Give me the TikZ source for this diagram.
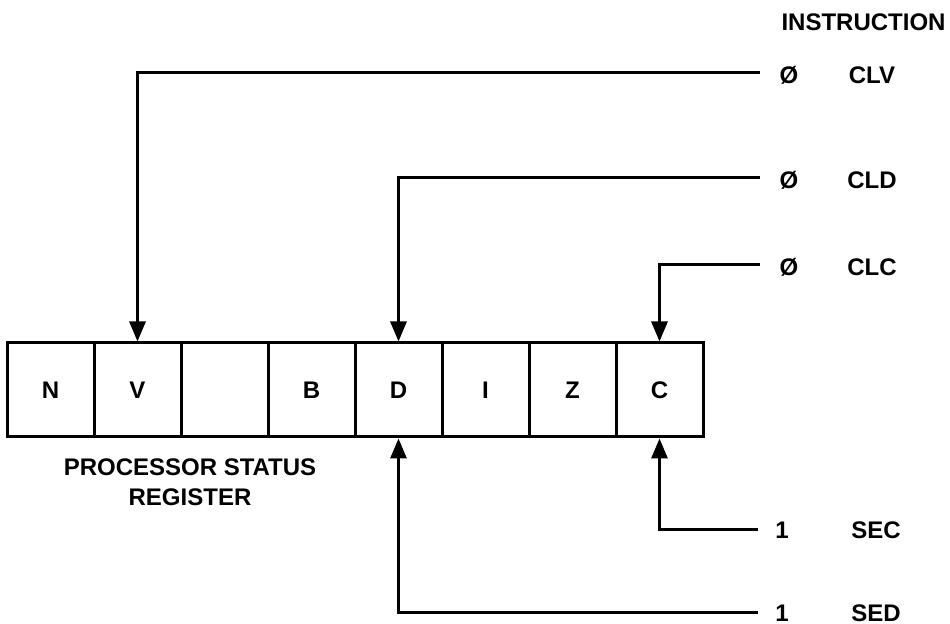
\documentclass[tikz,border=0pt]{standalone}
\usepackage{fontspec}
\setmainfont{Liberation Sans}
\usetikzlibrary{arrows.meta,positioning,calc}

\begin{document}
\begin{tikzpicture}[x=0.5pt,y=-0.5pt,line width=1.5pt,
	cell/.style={draw, minimum width=43.5pt, minimum height=47pt, inner sep=0pt, font=\bfseries\fontsize{12}{14}\selectfont},
	lbl/.style={inner sep=0pt, font=\bfseries\fontsize{12}{14}\selectfont},
	flag/.style={-{Triangle[length=10pt,width=8pt]}}]
	\useasboundingbox (0,0) rectangle (950,624);
	% status register
	\foreach \f [count=\i] in {N,V,{},B,D,I,Z,C} {
		\node[cell] (c\i) at ({7+87*\i-43.5},390) {\f};
	}
	\node[lbl, align=center] (psr) at (190,482) {PROCESSOR STATUS\\[1pt]REGISTER};
	% instructions
	\node[lbl, anchor=east] (instr) at (947,22) {INSTRUCTION};
	\node[lbl] (vclv) at (789,75) {Ø};
	\node[lbl] (clv) at (872,75) {CLV};
	\node[lbl] (vcld) at (789,180) {Ø};
	\node[lbl] (cld) at (872,180) {CLD};
	\node[lbl] (vclc) at (789,267) {Ø};
	\node[lbl] (clc) at (872,267) {CLC};
	\node[lbl] (vsec) at (782,530) {1};
	\node[lbl] (sec) at (876,530) {SEC};
	\node[lbl] (vsed) at (782,613) {1};
	\node[lbl] (sed) at (876,613) {SED};
	% connectors
	\draw[flag] ([xshift=-9pt]vclv.west |- 0,73) -| (c2.north);
	\draw[flag] ([xshift=-9pt]vcld.west |- 0,178) -| (c5.north);
	\draw[flag] ([xshift=-9pt]vclc.west |- 0,265) -| (c8.north);
	\draw[flag] ([xshift=-8pt]vsec.west) -| (c8.south);
	\draw[flag] ([xshift=-8pt]vsed.west) -| (c5.south);
\end{tikzpicture}
\end{document}
